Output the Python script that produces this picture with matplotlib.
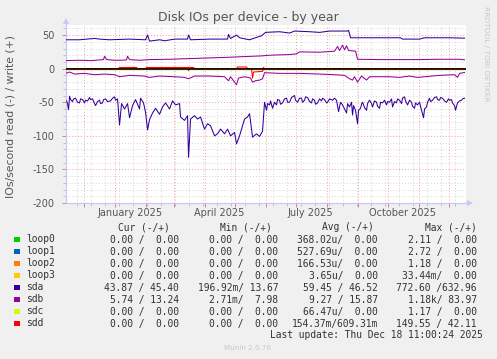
import matplotlib
matplotlib.use("Agg")
import matplotlib.pyplot as plt
import matplotlib.dates as mdates
from matplotlib.ticker import MultipleLocator, FixedLocator, NullFormatter, FuncFormatter
import pandas as pd

plt.rcParams['axes.unicode_minus'] = False

# ---------------- data ----------------
title = "Disk IOs per device - by year"
ylabel = "IOs/second read (-) / write (+)"
x_start = "2024-11-13 11:00"
x_end = "2025-12-18 11:00"
month_labels = ["January 2025", "April 2025", "July 2025", "October 2025"]
month_label_dates = ["2025-01-16", "2025-04-16", "2025-07-16", "2025-10-16"]

devices = ["loop0", "loop1", "loop2", "loop3", "sda", "sdb", "sdc", "sdd"]
colors = ["#00CC00", "#0066B3", "#FF8000", "#FFCC00", "#330099", "#990099", "#CCFF00", "#FF0000"]

cur_col = ["0.00 /  0.00", "0.00 /  0.00", "0.00 /  0.00", "0.00 /  0.00",
           "43.87 / 45.40", "5.74 / 13.24", "0.00 /  0.00", "0.00 /  0.00"]
min_col = ["0.00 /  0.00", "0.00 /  0.00", "0.00 /  0.00", "0.00 /  0.00",
           "196.92m/ 13.67", "2.71m/  7.98", "0.00 /  0.00", "0.00 /  0.00"]
avg_col = ["368.02u/  0.00", "527.69u/  0.00", "166.53u/  0.00", "3.65u/  0.00",
           "59.45 / 46.52", "9.27 / 15.87", "66.47u/  0.00", "154.37m/609.31m"]
max_col = ["2.11 /  0.00", "2.72 /  0.00", "1.18 /  0.00", "33.44m/  0.00",
           "772.60 /632.96", "1.18k/ 83.97", "1.17 /  0.00", "149.55 / 42.11"]
headers = ["Cur (-/+)", "Min (-/+)", "Avg (-/+)", "Max (-/+)"]
last_update = "Last update: Thu Dec 18 11:00:24 2025"
munin_version = "Munin 2.0.76"
watermark = "RRDTOOL / TOBI OETIKER"

# idle devices (loop0..3, sdc): zero in both directions
idle_dates = ["2024-11-13", "2025-12-18"]
idle_values = [0, 0]

sda_read_dates = [
    "2024-11-14", "2024-11-15", "2024-11-16", "2024-11-17", "2024-11-18", "2024-11-20", "2024-11-21",
    "2024-11-23", "2024-11-25", "2024-11-27", "2024-11-28", "2024-11-30", "2024-12-02", "2024-12-03",
    "2024-12-05", "2024-12-07", "2024-12-08", "2024-12-10", "2024-12-12", "2024-12-13", "2024-12-15",
    "2024-12-17", "2024-12-18", "2024-12-20", "2024-12-21", "2024-12-23", "2024-12-25", "2024-12-28",
    "2024-12-30", "2025-01-01", "2025-01-02", "2025-01-04",
    "2025-01-06", "2025-01-08", "2025-01-11", "2025-01-14", "2025-01-16",
    "2025-01-19", "2025-01-22", "2025-01-26", "2025-01-27", "2025-01-30", "2025-02-01", "2025-02-03",
    "2025-02-05", "2025-02-08", "2025-02-11", "2025-02-15", "2025-02-18", "2025-02-21", "2025-02-25",
    "2025-02-28", "2025-03-03", "2025-03-07", "2025-03-08", "2025-03-12", "2025-03-15", "2025-03-16",
    "2025-03-18", "2025-03-22", "2025-03-25", "2025-03-28", "2025-04-01", "2025-04-04", "2025-04-07",
    "2025-04-11", "2025-04-14", "2025-04-17", "2025-04-21", "2025-04-24", "2025-04-27", "2025-05-01",
    "2025-05-03", "2025-05-06", "2025-05-09", "2025-05-11", "2025-05-14", "2025-05-16", "2025-05-19",
    "2025-05-23", "2025-05-26", "2025-05-29", "2025-05-31",
    "2025-06-02", "2025-06-03", "2025-06-05", "2025-06-06", "2025-06-08", "2025-06-10", "2025-06-12",
    "2025-06-13", "2025-06-15", "2025-06-16", "2025-06-18", "2025-06-20", "2025-06-22", "2025-06-23",
    "2025-06-25", "2025-06-27", "2025-06-30", "2025-07-01", "2025-07-03", "2025-07-05", "2025-07-07",
    "2025-07-08", "2025-07-10", "2025-07-11", "2025-07-13", "2025-07-15", "2025-07-17", "2025-07-18",
    "2025-07-20", "2025-07-21", "2025-07-23", "2025-07-25", "2025-07-27", "2025-07-28", "2025-07-30",
    "2025-08-01", "2025-08-02", "2025-08-04", "2025-08-07", "2025-08-09", "2025-08-11", "2025-08-13",
    "2025-08-15", "2025-08-17", "2025-08-19", "2025-08-21", "2025-08-22", "2025-08-24", "2025-08-26",
    "2025-08-27", "2025-08-28", "2025-08-30", "2025-09-01", "2025-09-02", "2025-09-04", "2025-09-05",
    "2025-09-06", "2025-09-08", "2025-09-10", "2025-09-11", "2025-09-13", "2025-09-15", "2025-09-16",
    "2025-09-18", "2025-09-20", "2025-09-21", "2025-09-23", "2025-09-24", "2025-09-26", "2025-09-28",
    "2025-09-30", "2025-10-01", "2025-10-03", "2025-10-05", "2025-10-06", "2025-10-08", "2025-10-10",
    "2025-10-11", "2025-10-13", "2025-10-15", "2025-10-16", "2025-10-18", "2025-10-19", "2025-10-21",
    "2025-10-23", "2025-10-25", "2025-10-26", "2025-10-28", "2025-10-29", "2025-10-31", "2025-11-02",
    "2025-11-04", "2025-11-06", "2025-11-07", "2025-11-09", "2025-11-10", "2025-11-12", "2025-11-13",
    "2025-11-15", "2025-11-17", "2025-11-19", "2025-11-20", "2025-11-22", "2025-11-23", "2025-11-25",
    "2025-11-27", "2025-11-29", "2025-12-01", "2025-12-02", "2025-12-04", "2025-12-05", "2025-12-07",
    "2025-12-08", "2025-12-09", "2025-12-10", "2025-12-12", "2025-12-14", "2025-12-15", "2025-12-17"]
sda_read_values = [
    -48, -52, -61, -41, -46, -49, -45,
    -44, -50, -51, -45, -46, -51, -47,
    -48, -43, -46, -45, -52, -55, -49,
    -47, -52, -51, -46, -45, -49, -48,
    -44, -42, -47, -45,
    -84, -52, -60, -52, -73,
    -55, -46, -60, -44, -51, -65, -91,
    -76, -66, -59, -68, -57, -51, -60,
    -48, -54, -52, -72, -77, -70, -132,
    -75, -70, -75, -72, -90, -82, -85,
    -100, -97, -90, -97, -90, -100, -95,
    -112, -100, -85, -75, -72, -67, -102,
    -97, -101, -93, -50,
    -62, -52, -54, -48, -59, -50, -54,
    -46, -47, -53, -51, -45, -44, -50,
    -50, -43, -40, -47, -50, -44, -44,
    -50, -47, -42, -43, -49, -51, -45,
    -47, -53, -51, -45, -48, -44, -46,
    -51, -50, -45, -47, -44, -47, -64,
    -50, -54, -60, -66, -52, -57, -50,
    -69, -55, -62, -82, -62, -59, -53,
    -50, -58, -62, -52, -47, -52, -57,
    -48, -50, -56, -59, -50, -51, -47,
    -54, -49, -50, -45, -57, -49, -51,
    -45, -47, -52, -44, -42, -48, -54,
    -47, -50, -56, -59, -51, -54, -50,
    -62, -73, -60, -57, -50, -44, -49,
    -47, -43, -42, -46, -47, -43, -44,
    -48, -50, -45, -47, -46, -51, -55,
    -62, -56, -51, -48, -47, -45, -44]

sda_write_dates = [
    "2024-11-13", "2024-11-27", "2024-12-12", "2024-12-17", "2024-12-27", "2025-01-16", "2025-02-01",
    "2025-02-03", "2025-02-05", "2025-02-15", "2025-02-20", "2025-03-02", "2025-03-15", "2025-03-16",
    "2025-03-18", "2025-04-06", "2025-04-24", "2025-04-25", "2025-04-27", "2025-05-03", "2025-05-06",
    "2025-05-16", "2025-05-22", "2025-05-28", "2025-06-01", "2025-06-15", "2025-06-25", "2025-06-30",
    "2025-07-15", "2025-07-25", "2025-08-04", "2025-08-22", "2025-08-23", "2025-08-25", "2025-09-13",
    "2025-10-14", "2025-10-16", "2025-11-02", "2025-11-07", "2025-12-02", "2025-12-17"]
sda_write_values = [
    43, 43, 45, 44, 43, 44, 43,
    50, 41, 43, 41.5, 44, 44, 50,
    43, 44, 44, 51, 45, 50, 46,
    43, 46, 49, 54, 55, 53, 56,
    55, 54, 56, 56, 57, 46, 46,
    46, 44, 44, 46, 46, 45.4]

sdb_read_dates = [
    "2024-11-13", "2024-11-17", "2024-11-22", "2024-12-02", "2024-12-12", "2024-12-22", "2025-01-01",
    "2025-01-06", "2025-01-16", "2025-01-31", "2025-02-05", "2025-02-15", "2025-03-02", "2025-03-12",
    "2025-03-16", "2025-03-22", "2025-04-06", "2025-04-21", "2025-04-25", "2025-04-27", "2025-05-02",
    "2025-05-03", "2025-05-05", "2025-05-11", "2025-05-17", "2025-05-19", "2025-05-22", "2025-05-26",
    "2025-05-29", "2025-05-31", "2025-06-15", "2025-07-05", "2025-07-25", "2025-08-09", "2025-08-19",
    "2025-08-24", "2025-08-27", "2025-08-29", "2025-09-01", "2025-09-05", "2025-09-10", "2025-09-13",
    "2025-10-03", "2025-10-13", "2025-10-23", "2025-10-31", "2025-11-07", "2025-11-22", "2025-12-07",
    "2025-12-10", "2025-12-12", "2025-12-17"]
sdb_read_values = [
    -7, -5, -8, -7, -9, -8, -9,
    -12, -10, -11, -13, -11, -12, -13,
    -15, -11, -11, -12, -18, -12, -22,
    -24, -14, -12, -14, -20, -18, -17,
    -15, -6, -7, -7, -8, -9, -10,
    -15, -17, -12, -20, -11, -17, -12,
    -12, -13, -11, -13, -12, -10, -9,
    -13, -7, -5.7]

sdb_write_dates = [
    "2024-11-13", "2024-11-27", "2024-12-09", "2024-12-17", "2024-12-21", "2024-12-22", "2024-12-24",
    "2025-01-01", "2025-01-06", "2025-01-13", "2025-01-14", "2025-01-16", "2025-01-26", "2025-02-05",
    "2025-02-25", "2025-03-17", "2025-04-06", "2025-04-26", "2025-05-11", "2025-05-28", "2025-06-05",
    "2025-06-25", "2025-07-02", "2025-07-05", "2025-07-25", "2025-08-09", "2025-08-12", "2025-08-14",
    "2025-08-17", "2025-08-19", "2025-08-21", "2025-08-23", "2025-08-30", "2025-09-01", "2025-09-23",
    "2025-11-02", "2025-11-22", "2025-12-12", "2025-12-17"]
sdb_write_values = [
    12, 12.5, 12, 13, 13.5, 18.5, 13.5,
    12.5, 12.5, 13, 18.5, 13.5, 12.5, 13.5,
    14, 15, 16, 17, 18, 19, 20,
    21, 22, 25, 24.5, 26, 33, 27,
    35, 28, 34, 27, 26, 14, 13.5,
    13.5, 14, 14, 13.2]

sdd_read_dates = ["2024-11-13", "2025-03-15", "2025-03-16", "2025-03-17", "2025-05-18", "2025-05-19",
                  "2025-05-20", "2025-05-29", "2025-05-30", "2025-12-18"]
sdd_read_values = [0, 0, -3, 0, 0, -14, -5, -4, 0, 0]

sdd_write_dates = ["2024-11-13", "2025-01-05", "2025-01-06", "2025-01-23", "2025-01-24", "2025-02-01",
                   "2025-02-02", "2025-03-21", "2025-03-22", "2025-05-03", "2025-05-04", "2025-05-13",
                   "2025-05-14", "2025-05-29", "2025-05-30", "2025-05-31", "2025-12-18"]
sdd_write_values = [0, 0, 1.8, 1.8, 0, 0, 1.8, 1.8, 0, 0, 2.5, 2.5, 0, 0, 1.8, 0, 0]

# ---------------- figure ----------------
W, H = 497, 359
fig = plt.figure(figsize=(W / 100, H / 100), dpi=100)
fig.patch.set_facecolor("#F0F0F0")


def fx(x):
    return x / W


def fy(y):
    return 1 - y / H


ax = fig.add_axes([fx(66), fy(203), (466 - 66) / W, (203 - 25) / H])
ax.set_facecolor("white")

series = {
    "loop0": (idle_dates, idle_values, idle_dates, idle_values),
    "loop1": (idle_dates, idle_values, idle_dates, idle_values),
    "loop2": (idle_dates, idle_values, idle_dates, idle_values),
    "loop3": (idle_dates, idle_values, idle_dates, idle_values),
    "sda": (sda_read_dates, sda_read_values, sda_write_dates, sda_write_values),
    "sdb": (sdb_read_dates, sdb_read_values, sdb_write_dates, sdb_write_values),
    "sdc": (idle_dates, idle_values, idle_dates, idle_values),
    "sdd": (sdd_read_dates, sdd_read_values, sdd_write_dates, sdd_write_values),
}
for i, (dev, col) in enumerate(zip(devices, colors)):
    rd, rv, wd, wv = series[dev]
    ax.plot(pd.to_datetime(rd), rv, color=col, lw=0.75, zorder=3 + i * 0.01)
    ax.plot(pd.to_datetime(wd), wv, color=col, lw=0.75, zorder=3 + i * 0.01)

ax.axhline(0, color="black", lw=1.1, zorder=4)

ax.set_xlim(pd.Timestamp(x_start), pd.Timestamp(x_end))
ax.set_ylim(-200, 65)

# grid
ax.xaxis.set_major_locator(mdates.MonthLocator())
minor_dates = pd.date_range("2024-11-10", "2025-12-31", freq="14D")
ax.xaxis.set_minor_locator(FixedLocator(mdates.date2num(minor_dates)))
ax.xaxis.set_major_formatter(NullFormatter())
ax.yaxis.set_major_locator(MultipleLocator(50))
ax.yaxis.set_minor_locator(MultipleLocator(10))
ax.yaxis.set_major_formatter(FuncFormatter(lambda v, p: "%d" % v))
ax.set_axisbelow(True)
ax.grid(which="minor", color="#D6D6D6", linestyle=(0, (1, 2)), lw=0.7)
ax.grid(which="major", color="#EBA0A0", linestyle=(0, (1, 2)), lw=0.7)

axis_col = "#C8C8F8"
for s in ["top", "right"]:
    ax.spines[s].set_visible(False)
for s in ["left", "bottom"]:
    ax.spines[s].set_color(axis_col)
    ax.spines[s].set_linewidth(0.9)
ax.plot([0, 0], [1.0, 1.02], transform=ax.transAxes, clip_on=False, color=axis_col, lw=0.9)
ax.plot([1.0, 1.01], [0, 0], transform=ax.transAxes, clip_on=False, color=axis_col, lw=0.9)
ax.plot([0], [1.02], transform=ax.transAxes, clip_on=False, marker="^", ms=4, color=axis_col, mew=0)
ax.plot([1.01], [0], transform=ax.transAxes, clip_on=False, marker=">", ms=4, color=axis_col, mew=0)

ax.tick_params(axis="both", which="major", length=3, width=0.7, color="#E08080",
               labelsize=7, labelcolor="#555555", pad=5)
ax.tick_params(axis="both", which="minor", length=2, width=0.7, color="#C0C0C0")

for lab, d in zip(month_labels, month_label_dates):
    ax.text(mdates.date2num(pd.Timestamp(d)), -9.5 / 178, lab, transform=ax.get_xaxis_transform(),
            ha="center", va="center", fontsize=7, color="#555555")

fig.text(fx(248), fy(18), title, ha="center", va="center", fontsize=9, color="#555555")
fig.text(fx(11), fy(116), ylabel, ha="center", va="center", rotation=90, fontsize=7.8, color="#555555")
fig.text(fx(486), fy(54), watermark, ha="center", va="center", rotation=270, fontsize=5.4, color="#C8C8C8")

# legend table
mono = dict(family="DejaVu Sans Mono", fontsize=6.9, color="#333333")
header_y = 227
header_right = [169.5, 272, 373.3, 476.7]
for h, xr in zip(headers, header_right):
    fig.text(fx(xr), fy(header_y), h, ha="right", va="center", **mono)

col_right = [179, 278.3, 377.7, 476.7]
row_y0, row_dy = 239.5, 12
for i, (dev, col) in enumerate(zip(devices, colors)):
    y = row_y0 + i * row_dy
    fig.patches.append(plt.Rectangle((fx(14), fy(y + 2.8)), 5.6 / W, 5.6 / H, transform=fig.transFigure,
                                     facecolor=col, edgecolor="none"))
    fig.text(fx(26), fy(y), dev, ha="left", va="center", **mono)
    for colvals, xr in zip([cur_col, min_col, avg_col, max_col], col_right):
        fig.text(fx(xr), fy(y), colvals[i], ha="right", va="center", **mono)

fig.text(fx(482.7), fy(row_y0 + 8 * row_dy), last_update, ha="right", va="center", **mono)
fig.text(fx(248), fy(348), munin_version, ha="center", va="center", fontsize=5.2, color="#C8C8C8")

fig.savefig("out.png", dpi=100, facecolor=fig.get_facecolor())
